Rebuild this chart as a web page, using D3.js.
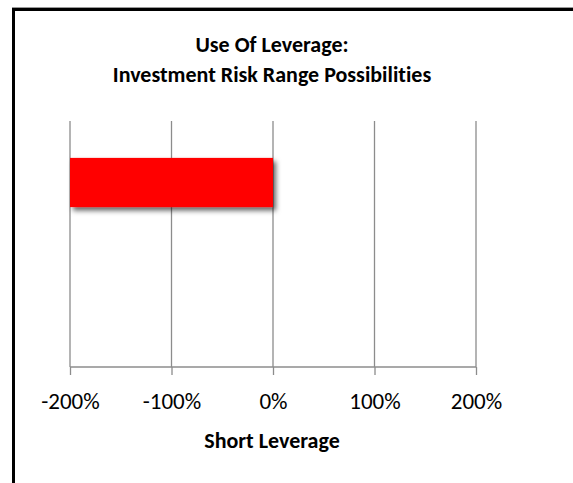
<!DOCTYPE html>
<html>
<head>
<meta charset="utf-8">
<script src="https://cdn.jsdelivr.net/npm/d3@7/dist/d3.min.js"></script>
<style>
  html, body { margin: 0; padding: 0; background: #fff; }
  svg { display: block; font-family: Carlito, Calibri, Lato, sans-serif; font-variant-ligatures: none; }
</style>
</head>
<body>
<script>
// données du graphique
const categories = ["Short", "Long"];
const debuts = [-200, 0];
const fins = [0, 0];
const graduations = [-200, -100, 0, 100, 200];
const titreLignes = ["Use Of Leverage:", "Investment Risk Range Possibilities"];
const titreAxeX = "Short Leverage";

const largeur = 573, hauteur = 483;

const canevas = d3.select("body")
  .append("svg")
  .attr("width", largeur)
  .attr("height", hauteur);

// ombre portée des barres
const defs = canevas.append("defs");
defs.append("filter")
  .attr("id", "ombre")
  .attr("x", "-10%").attr("y", "-20%")
  .attr("width", "130%").attr("height", "160%")
  .append("feDropShadow")
    .attr("dx", 3).attr("dy", 3.5)
    .attr("stdDeviation", 2.5)
    .attr("flood-color", "#000")
    .attr("flood-opacity", 0.6);

// cadre
canevas.append("line")
  .attr("x1", 12).attr("x2", largeur)
  .attr("y1", 7.5).attr("y2", 7.5)
  .attr("stroke", "#9a9a9a").attr("stroke-width", 1);
canevas.append("path")
  .attr("d", `M13.5,${hauteur} V9.5 H${largeur}`)
  .attr("fill", "none")
  .attr("stroke", "#000")
  .attr("stroke-width", 3);

// échelles
const x = d3.scaleLinear().domain([-200, 200]).range([70, 476]);
const y = d3.scaleBand().domain(categories)
  .range([121, 367])
  .paddingInner(0.6)
  .paddingOuter(0.3);

// lignes de grille
canevas.append("g")
  .selectAll("line")
  .data(graduations)
  .join("line")
    .attr("x1", d => x(d)).attr("x2", d => x(d))
    .attr("y1", 121).attr("y2", 367)
    .attr("stroke", "#8c8c8c")
    .attr("stroke-width", 1.3);

// axe horizontal
const axeX = d3.axisBottom(x)
  .tickValues(graduations)
  .tickSize(8)
  .tickFormat(d => d + "%");

const gAxe = canevas.append("g")
  .attr("transform", "translate(0,367)")
  .call(axeX);
gAxe.select(".domain")
  .attr("stroke", "#8c8c8c")
  .attr("stroke-width", 1.3)
  .attr("d", `M${x(-200)},0H${x(200)}`);
gAxe.selectAll(".tick line")
  .attr("stroke", "#8c8c8c")
  .attr("stroke-width", 1.3);
gAxe.selectAll(".tick text")
  .attr("y", 42)
  .attr("dy", 0)
  .attr("fill", "#000")
  .attr("font-size", 23)
  .attr("font-family", "Carlito, Calibri, Lato, sans-serif");

// barres
const lignes = categories.map((c, i) => ({ cat: c, debut: debuts[i], fin: fins[i] }))
  .filter(d => d.fin !== d.debut);

canevas.append("g")
  .selectAll("rect")
  .data(lignes)
  .join("rect")
    .attr("x", d => x(Math.min(d.debut, d.fin)))
    .attr("width", d => Math.abs(x(d.fin) - x(d.debut)))
    .attr("y", d => y(d.cat))
    .attr("height", y.bandwidth())
    .attr("fill", "#ff0000")
    .attr("filter", "url(#ombre)");

// titre
canevas.append("g")
  .selectAll("text")
  .data(titreLignes)
  .join("text")
    .attr("x", 272)
    .attr("y", (d, i) => 52 + i * 30)
    .attr("text-anchor", "middle")
    .attr("font-weight", "bold")
    .attr("font-size", 22)
    .text(d => d);

// titre de l'axe
canevas.append("text")
  .attr("x", 272)
  .attr("y", 448)
  .attr("text-anchor", "middle")
  .attr("font-weight", "bold")
  .attr("font-size", 22)
  .text(titreAxeX);
</script>
</body>
</html>
